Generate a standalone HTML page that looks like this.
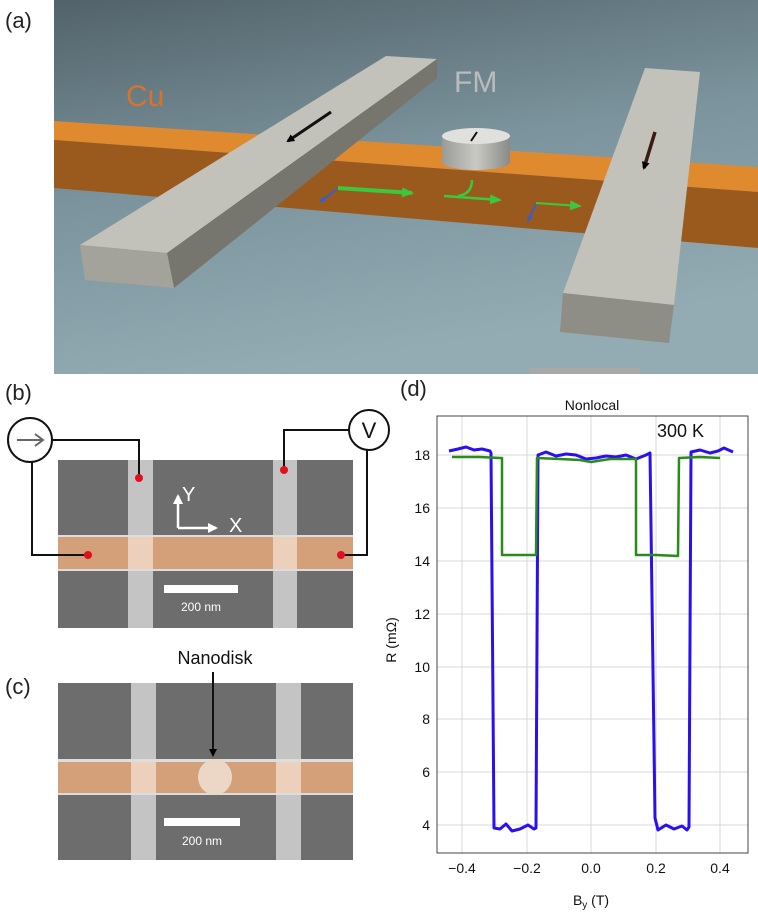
<!DOCTYPE html>
<html><head><meta charset="utf-8"><style>
html,body{margin:0;padding:0;background:#fff}
svg{display:block}
text{font-family:"Liberation Sans","DejaVu Sans",sans-serif}
</style></head><body>
<svg width="758" height="917" viewBox="0 0 758 917" xmlns="http://www.w3.org/2000/svg">
<defs>
<linearGradient id="bg" x1="0" y1="0" x2="0.3" y2="1">
<stop offset="0" stop-color="#52626a"/><stop offset="0.5" stop-color="#7b939c"/><stop offset="1" stop-color="#93abb3"/>
</linearGradient>
<linearGradient id="cyl" x1="0" x2="1"><stop offset="0" stop-color="#9a9a96"/><stop offset="0.5" stop-color="#c9c9c4"/><stop offset="1" stop-color="#8a8a86"/></linearGradient>
<marker id="ah" markerWidth="8" markerHeight="8" refX="6" refY="4" orient="auto" markerUnits="userSpaceOnUse"><path d="M0,0 L8,4 L0,8 z" fill="#000"/></marker>
<marker id="ahw" markerWidth="10" markerHeight="10" refX="8" refY="5" orient="auto" markerUnits="userSpaceOnUse"><path d="M0,0 L10,5 L0,10 z" fill="#fff"/></marker>
<marker id="ahg" markerWidth="12" markerHeight="10" refX="10" refY="5" orient="auto" markerUnits="userSpaceOnUse"><path d="M0,0 L12,5 L0,10 z" fill="#3cc83c"/></marker>
<marker id="ahb" markerWidth="6" markerHeight="6" refX="5" refY="3" orient="auto" markerUnits="userSpaceOnUse"><path d="M0,0 L6,3 L0,6 z" fill="#3060d0"/></marker>
</defs>

<!-- Panel a -->
<text x="5" y="28" font-size="22" fill="#222">(a)</text>
<rect x="54" y="0" width="704" height="374" fill="url(#bg)"/>
<!-- Cu strip -->
<polygon points="54,121 758,167 758,192 54,140" fill="#e08a30"/>
<polygon points="54,140 758,192 758,248 54,188" fill="#9a5a1e"/>
<text x="126" y="106" font-size="30" fill="#d8732a">Cu</text>
<text x="454" y="92" font-size="30" fill="#b8bcbc">FM</text>
<!-- cylinder -->
<path d="M442,136 L442,162 A34,8 0 0 0 510,162 L510,136 z" fill="url(#cyl)"/>
<ellipse cx="476" cy="136" rx="34" ry="8" fill="#e0e0dc"/>
<line x1="477" y1="132" x2="471" y2="141" stroke="#111" stroke-width="2"/>
<!-- spin arrows -->
<line x1="338" y1="188" x2="412" y2="193" stroke="#3cc83c" stroke-width="4" marker-end="url(#ahg)"/>
<line x1="337" y1="189" x2="320" y2="202" stroke="#3060d0" stroke-width="2" marker-end="url(#ahb)"/>
<line x1="444" y1="196" x2="500" y2="200" stroke="#3cc83c" stroke-width="2.5" marker-end="url(#ahg)"/>
<path d="M458,196 Q472,194 472,180" stroke="#3cc83c" stroke-width="2.5" fill="none"/>
<line x1="536" y1="203" x2="580" y2="206" stroke="#3cc83c" stroke-width="2" marker-end="url(#ahg)"/>
<line x1="536" y1="204" x2="528" y2="221" stroke="#3060d0" stroke-width="2" marker-end="url(#ahb)"/>
<!-- left bar -->
<polygon points="386,56 437,59 167,253 80,245" fill="#c2c2ba"/>
<polygon points="437,59 437,78 174,288 167,253" fill="#76766e"/>
<polygon points="80,245 167,253 174,288 85,280" fill="#a3a39b"/>
<line x1="331" y1="112" x2="288" y2="141" stroke="#111" stroke-width="3" marker-end="url(#ah)"/>
<!-- right bar -->
<polygon points="645,68 700,72 674,305 563,293" fill="#c2c2ba"/>
<polygon points="563,293 674,305 669,343 560,332" fill="#8e8e86"/>
<line x1="655" y1="132" x2="644" y2="168" stroke="#3a1a14" stroke-width="3.5" marker-end="url(#ah)"/>
<rect x="529" y="368" width="111" height="6" fill="#a8a8a8"/>

<!-- Panel b -->
<text x="5" y="400" font-size="22" fill="#222">(b)</text>
<rect x="58" y="460" width="295" height="168" fill="#6d6d6d"/>
<rect x="128" y="460" width="25" height="168" fill="#c4c4c4"/>
<rect x="273" y="460" width="24" height="168" fill="#c4c4c4"/>
<rect x="58" y="535" width="295" height="2" fill="#ddd"/>
<rect x="58" y="537" width="295" height="32" fill="#d4a07a"/>
<rect x="128" y="537" width="25" height="32" fill="#ecd0bc"/>
<rect x="273" y="537" width="24" height="32" fill="#ecd0bc"/>
<rect x="58" y="569" width="295" height="2" fill="#ddd"/>
<rect x="164" y="585" width="74" height="8" fill="#fff"/>
<text x="201" y="611" font-size="12" fill="#fff" text-anchor="middle">200 nm</text>
<line x1="178" y1="528" x2="178" y2="496" stroke="#fff" stroke-width="2.5" marker-end="url(#ahw)"/>
<line x1="178" y1="528" x2="216" y2="528" stroke="#fff" stroke-width="2.5" marker-end="url(#ahw)"/>
<text x="182" y="501" font-size="20" fill="#fff">Y</text>
<text x="229" y="532" font-size="20" fill="#fff">X</text>
<g stroke="#111" stroke-width="2" fill="none">
<polyline points="52,440 139,440 139,478"/>
<polyline points="32,462 32,555 88,555"/>
<polyline points="350,430 284,430 284,470"/>
<polyline points="367,450 367,555 341,555"/>
<circle cx="30" cy="440" r="22" fill="#fff"/>
<circle cx="369" cy="430" r="20" fill="#fff"/>
</g>
<line x1="17" y1="440" x2="42" y2="440" stroke="#666" stroke-width="2"/>
<path d="M35,434 L43,440 L35,446" stroke="#666" stroke-width="2" fill="none"/>
<text x="369" y="438" font-size="22" fill="#111" text-anchor="middle">V</text>
<g fill="#e0101e"><circle cx="139" cy="478" r="4"/><circle cx="88" cy="555" r="4"/><circle cx="284" cy="470" r="4"/><circle cx="341" cy="555" r="4"/></g>

<!-- Panel c -->
<text x="5" y="694" font-size="22" fill="#222">(c)</text>
<rect x="58" y="683" width="295" height="177" fill="#6d6d6d"/>
<rect x="131" y="683" width="25" height="177" fill="#c4c4c4"/>
<rect x="276" y="683" width="25" height="177" fill="#c4c4c4"/>
<rect x="58" y="759" width="295" height="3" fill="#ddd"/>
<rect x="58" y="762" width="295" height="31" fill="#d4a07a"/>
<rect x="131" y="762" width="25" height="31" fill="#ecd0bc"/>
<rect x="276" y="762" width="25" height="31" fill="#ecd0bc"/>
<rect x="58" y="793" width="295" height="2" fill="#ddd"/>
<ellipse cx="215" cy="777" rx="17" ry="18" fill="#ecd6c6"/>
<rect x="164" y="818" width="76" height="8" fill="#fff"/>
<text x="202" y="845" font-size="12" fill="#fff" text-anchor="middle">200 nm</text>
<text x="215" y="664" font-size="18" fill="#111" text-anchor="middle">Nanodisk</text>
<line x1="213" y1="672" x2="213" y2="755" stroke="#111" stroke-width="2" marker-end="url(#ah)"/>

<!-- Panel d -->
<text x="400" y="396" font-size="22" fill="#222">(d)</text>
<text x="592" y="410" font-size="14" fill="#111" text-anchor="middle">Nonlocal</text>
<g stroke="#d8d8d8" stroke-width="1">
<line x1="462" y1="416" x2="462" y2="853"/><line x1="527" y1="416" x2="527" y2="853"/><line x1="591" y1="416" x2="591" y2="853"/><line x1="656" y1="416" x2="656" y2="853"/><line x1="720" y1="416" x2="720" y2="853"/>
<line x1="437" y1="455" x2="748" y2="455"/><line x1="437" y1="508" x2="748" y2="508"/><line x1="437" y1="561" x2="748" y2="561"/><line x1="437" y1="614" x2="748" y2="614"/><line x1="437" y1="667" x2="748" y2="667"/><line x1="437" y1="719" x2="748" y2="719"/><line x1="437" y1="772" x2="748" y2="772"/><line x1="437" y1="825" x2="748" y2="825"/>
</g>
<rect x="437" y="416" width="311" height="437" fill="none" stroke="#444" stroke-width="1"/>
<g font-size="14" fill="#111" text-anchor="end">
<text x="430" y="460">18</text><text x="430" y="513">16</text><text x="430" y="566">14</text><text x="430" y="619">12</text><text x="430" y="672">10</text><text x="430" y="724">8</text><text x="430" y="777">6</text><text x="430" y="830">4</text>
</g>
<g font-size="14" fill="#111" text-anchor="middle">
<text x="462" y="873">−0.4</text><text x="527" y="873">−0.2</text><text x="591" y="873">0.0</text><text x="656" y="873">0.2</text><text x="720" y="873">0.4</text>
<text x="591" y="905">B<tspan font-size="10" dy="3">y</tspan><tspan dy="-3"> (T)</tspan></text>
</g>
<text transform="translate(396,640) rotate(-90)" font-size="14" fill="#111" text-anchor="middle">R (mΩ)</text>
<text x="657" y="437" font-size="18" fill="#111">300 K</text>
<polyline fill="none" stroke="#2a10f0" stroke-width="3" stroke-linejoin="round" points="449,451 458,449 466,447 474,450 482,449 490,451 491,453 494,828 500,829 506,824 512,831 520,829 528,825 534,829 536,828 538,455 546,452 556,456 566,454 576,455 586,459 596,458 606,456 616,457 626,455 636,459 646,455 650,453 655,818 658,830 666,825 674,829 682,826 687,830 689,827 691,452 700,450 710,453 718,451 724,448 733,452"/>
<polyline fill="none" stroke="#2a8a1a" stroke-width="2.5" stroke-linejoin="round" points="452,457 480,457 500,458 502,458 502,555 520,555 536,555 537,458 560,459 580,460 591,462 610,459 636,459 636,555 656,555 678,556 679,458 700,457 720,458"/>
</svg>
</body></html>
